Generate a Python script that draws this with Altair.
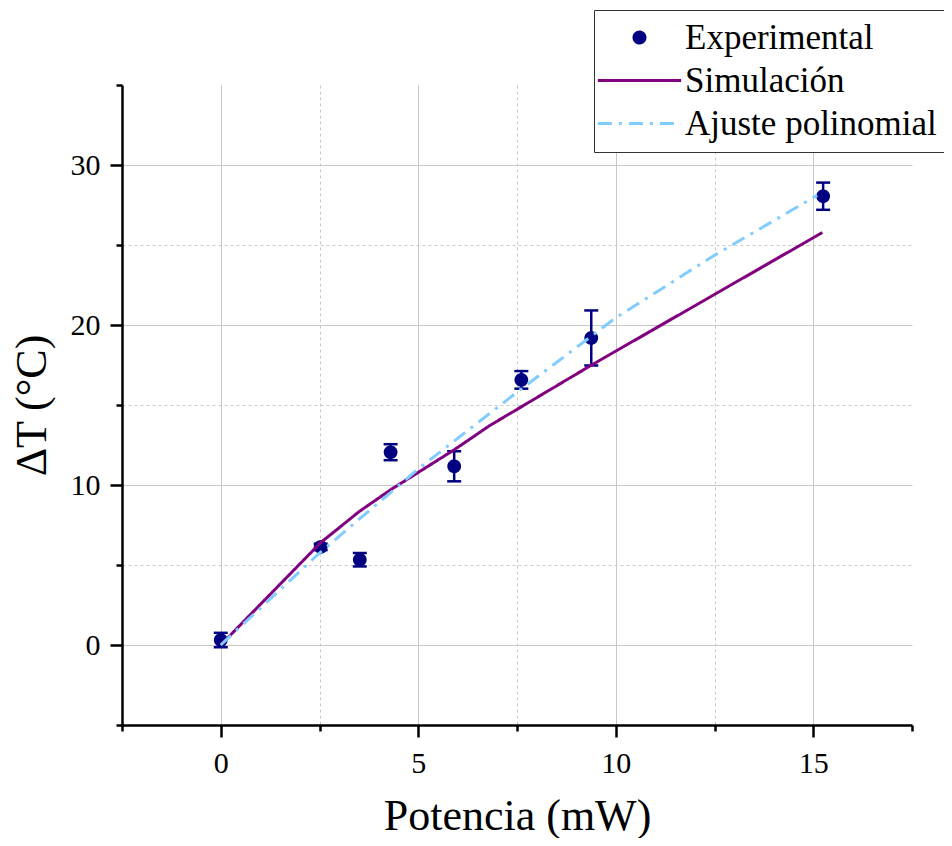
import altair as alt
import pandas as pd

# ---- data ----
exp_x = [0.0, 2.53, 3.52, 4.30, 5.91, 7.61, 9.38, 15.25]
exp_y = [0.31, 6.13, 5.33, 12.05, 11.17, 16.57, 19.19, 28.05]
exp_err = [0.45, 0.2, 0.42, 0.5, 0.94, 0.55, 1.72, 0.85]

sim_x = [0.0, 2.53, 3.51, 4.30, 5.91, 6.80, 9.39, 15.23]
sim_y = [0.0, 6.40, 8.35, 9.70, 12.20, 13.70, 17.50, 25.78]

fit_x = [0.0, 2.5, 5.0, 7.5, 10.0, 12.5, 15.1]
fit_y = [0.0, 5.75, 11.0, 15.8, 20.45, 24.36, 28.1]

series_names = ["Experimental", "Simulación", "Ajuste polinomial"]
series_colors = ["#000080", "#800080", "#80CCFF"]

x_ticks = [-2.5, 0, 2.5, 5, 7.5, 10, 12.5, 15, 17.5]
y_ticks = [-5, 0, 5, 10, 15, 20, 25, 30, 35]

FONT = "Liberation Serif"

exp_df = pd.DataFrame({
    "x": exp_x,
    "y": exp_y,
    "lo": [v - e for v, e in zip(exp_y, exp_err)],
    "hi": [v + e for v, e in zip(exp_y, exp_err)],
    "series": "Experimental",
})
sim_df = pd.DataFrame({"x": sim_x, "y": sim_y, "series": "Simulación"})
fit_df = pd.DataFrame({"x": fit_x, "y": fit_y, "series": "Ajuste polinomial"})

line_path = "M-7.6,0H7.6"

stroke_scale = alt.Scale(domain=series_names, range=series_colors)
fill_scale = alt.Scale(domain=series_names, range=[series_colors[0], "transparent", "transparent"])
shape_scale = alt.Scale(domain=series_names, range=["circle", line_path, line_path])
dash_scale = alt.Scale(domain=series_names, range=[[1, 0], [1, 0], [14, 7, 3, 7]])

legend_def = alt.Legend(
    title=None, orient="none", legendX=472, legendY=-75,
    labelFont=FONT, labelFontSize=35, labelColor="black", labelLimit=0,
    symbolSize=120, symbolStrokeWidth=3,
    strokeColor="#333333", fillColor="white", padding=10, rowPadding=7,
    symbolOffset=18, labelOffset=28, cornerRadius=0,
)

x_axis = alt.Axis(
    values=x_ticks,
    labelExpr="datum.value % 5 === 0 ? datum.label : ''",
    tickSize={"condition": {"test": "datum.value % 5 === 0", "value": 12}, "value": 6},
    gridDash={"condition": {"test": "datum.value % 5 === 0", "value": []}, "value": [3, 3]},
    gridOpacity={"condition": {"test": "datum.value === -2.5 || datum.value === 17.5", "value": 0}, "value": 1},
    gridColor="#c8c8c8", gridWidth=1,
    domainColor="black", domainWidth=2.5, tickColor="black", tickWidth=2.5,
    labelFont=FONT, labelFontSize=30, labelColor="black", labelPadding=11, labelFlush=False,
    titleFont=FONT, titleFontSize=44, titleFontWeight="normal", titleColor="black", titlePadding=16,
)
y_axis = alt.Axis(
    values=y_ticks,
    labelExpr="datum.value % 10 === 0 ? datum.label : ''",
    tickSize={"condition": {"test": "datum.value % 10 === 0", "value": 12}, "value": 6},
    gridDash={"condition": {"test": "datum.value % 10 === 0", "value": []}, "value": [3, 3]},
    gridOpacity={"condition": {"test": "datum.value === -5 || datum.value === 35", "value": 0}, "value": 1},
    gridColor="#c8c8c8", gridWidth=1,
    domainColor="black", domainWidth=2.5, tickColor="black", tickWidth=2.5,
    labelFont=FONT, labelFontSize=30, labelColor="black", labelPadding=10, labelFlush=False,
    titleFont=FONT, titleFontSize=44, titleFontWeight="normal", titleColor="black", titlePadding=16,
)

x_scale = alt.Scale(domain=[-2.5, 17.5], nice=False, zero=False)
y_scale = alt.Scale(domain=[-5, 35], nice=False, zero=False)


def xenc():
    return alt.X("x:Q", scale=x_scale, axis=x_axis, title="Potencia (mW)")


def yenc(field="y"):
    return alt.Y(f"{field}:Q", scale=y_scale, axis=y_axis, title="ΔT (°C)")


errbars = alt.Chart(exp_df).mark_errorbar(
    ticks={"size": 14, "thickness": 2.5, "opacity": 1},
    rule={"strokeWidth": 2.5, "opacity": 1},
    color="#000080",
    opacity=1,
).encode(x=xenc(), y=yenc("lo"), y2="hi:Q")

points = alt.Chart(exp_df).mark_point(size=150, strokeWidth=1.5, opacity=1).encode(
    x=xenc(), y=yenc(),
    fill=alt.Fill("series:N", scale=fill_scale, legend=legend_def),
    stroke=alt.Stroke("series:N", scale=stroke_scale, legend=legend_def),
    shape=alt.Shape("series:N", scale=shape_scale, legend=legend_def),
    strokeDash=alt.StrokeDash("series:N", scale=dash_scale, legend=legend_def),
)

sim_line = alt.Chart(sim_df).mark_line(strokeWidth=3).encode(
    x=xenc(), y=yenc(),
    stroke=alt.Stroke("series:N", scale=stroke_scale, legend=legend_def),
    strokeDash=alt.StrokeDash("series:N", scale=dash_scale, legend=legend_def),
)

fit_line = alt.Chart(fit_df).mark_line(strokeWidth=3).encode(
    x=xenc(), y=yenc(),
    stroke=alt.Stroke("series:N", scale=stroke_scale, legend=legend_def),
    strokeDash=alt.StrokeDash("series:N", scale=dash_scale, legend=legend_def),
)

chart = alt.layer(errbars, points, sim_line, fit_line).properties(
    width=790, height=640,
    autosize=alt.AutoSizeParams(type="none"),
    padding={"left": 114, "top": 77, "right": 32, "bottom": 113},
    background="white",
).configure_view(stroke=None)

chart.save("out.html", embed_options={"renderer": "svg", "actions": False})
